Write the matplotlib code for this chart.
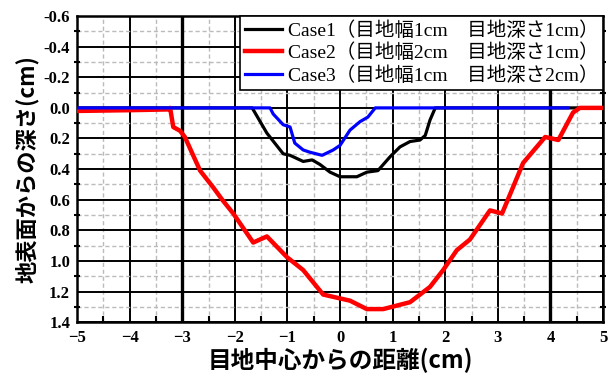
import matplotlib
matplotlib.use("Agg")
import matplotlib.pyplot as plt
from matplotlib.ticker import MultipleLocator

# 目地中心からの距離 (cm) と 地表面からの深さ (cm)
case1_x = [-5.0, -1.67, -1.39, -1.08, -0.95, -0.70, -0.53, -0.38, -0.19, 0.0, 0.32,
           0.51, 0.72, 0.95, 1.14, 1.33, 1.52, 1.62, 1.71, 1.81, 5.0]
case1_y = [0.0, 0.0, 0.165, 0.30, 0.31, 0.35, 0.34, 0.37, 0.42, 0.45, 0.45,
           0.42, 0.41, 0.32, 0.255, 0.22, 0.21, 0.18, 0.08, 0.0, 0.0]

case2_x = [-5.0, -4.0, -3.25, -3.23, -3.17, -3.04, -2.95, -2.66, -2.41, -2.24, -2.03,
           -1.65, -1.39, -1.01, -0.70, -0.32, 0.19, 0.51, 0.82, 1.33, 1.71, 1.96,
           2.22, 2.47, 2.85, 3.08, 3.19, 3.48, 3.90, 4.15, 4.43, 4.56, 5.0]
case2_y = [0.02, 0.015, 0.01, 0.0, 0.125, 0.15, 0.19, 0.41, 0.52, 0.60, 0.69,
           0.88, 0.84, 0.975, 1.06, 1.22, 1.26, 1.315, 1.315, 1.27, 1.17, 1.06,
           0.93, 0.86, 0.67, 0.69, 0.60, 0.36, 0.19, 0.21, 0.03, 0.0, 0.0]

case3_x = [-5.0, -1.33, -1.27, -1.08, -0.95, -0.86, -0.70, -0.57, -0.34, -0.13, 0.0,
           0.19, 0.38, 0.53, 0.67, 4.33]
case3_y = [0.0, 0.0, 0.04, 0.11, 0.125, 0.23, 0.275, 0.29, 0.31, 0.275, 0.245,
           0.145, 0.09, 0.06, 0.0, 0.0]

labels = ["Case1（目地幅1cm　目地深さ1cm）",
          "Case2（目地幅2cm　目地深さ1cm）",
          "Case3（目地幅1cm　目地深さ2cm）"]

serif = ["Liberation Serif", "Noto Sans CJK JP"]
gothic = ["Noto Sans CJK JP", "DejaVu Sans"]

fig = plt.figure(figsize=(6.11, 3.83), dpi=100)
ax = fig.add_axes([0.126, 0.159, 0.861, 0.799])

ax.plot(case1_x, case1_y, color="black", lw=2.3, label=labels[0], zorder=3)
ax.plot(case2_x, case2_y, color="red", lw=3.2, label=labels[1], zorder=4)
ax.plot(case3_x, case3_y, color="blue", lw=2.3, label=labels[2], zorder=5)

ax.set_xlim(-5, 5)
ax.set_ylim(1.4, -0.6)
ax.xaxis.set_major_locator(MultipleLocator(1))
ax.xaxis.set_minor_locator(MultipleLocator(0.5))
ax.yaxis.set_major_locator(MultipleLocator(0.2))
ax.yaxis.set_minor_locator(MultipleLocator(0.1))

ax.grid(which="major", color="black", lw=1.4, ls="-", zorder=1)
ax.grid(which="minor", color="#bbbbbb", lw=1.0, ls=(0, (3, 2)), zorder=1)
ax.axvline(-3, color="black", lw=2.4, zorder=1)
ax.axvline(4, color="black", lw=2.4, zorder=1)
ax.set_axisbelow(True)

for s in ax.spines.values():
    s.set_linewidth(1.8)

ax.tick_params(which="both", direction="in", width=1.5, right=True)
ax.tick_params(which="major", length=0)
ax.tick_params(which="minor", length=4)
ax.tick_params(axis="y", which="minor", right=True, direction="inout")

ax.set_yticks([-0.6, -0.4, -0.2, 0.0, 0.2, 0.4, 0.6, 0.8, 1.0, 1.2, 1.4])
ax.set_yticklabels(["-0.6", "-0.4", "-0.2", "0.0", "0.2", "0.4", "0.6",
                    "0.8", "1.0", "1.2", "1.4"])
for t in ax.get_xticklabels() + ax.get_yticklabels():
    t.set_fontfamily("Liberation Serif")
    t.set_fontweight("bold")
    t.set_fontsize(12)
ax.tick_params(axis="x", pad=6)
ax.tick_params(axis="y", pad=5)

ax.set_xlabel("目地中心からの距離(cm)", family=gothic, fontweight="bold",
              fontsize=17, labelpad=1)
ax.set_ylabel("地表面からの深さ(cm)", family=gothic, fontweight="bold",
              fontsize=16, labelpad=3)

leg = ax.legend(loc="upper right", bbox_to_anchor=(1.0, 1.0), fancybox=False,
                framealpha=1, edgecolor="black", borderaxespad=0,
                handlelength=1.9, handletextpad=0.3, labelspacing=0.2,
                borderpad=0.25, prop={"family": serif, "size": 14})
leg.get_frame().set_linewidth(1.2)
leg.set_zorder(10)

fig.savefig("out.png", dpi=100)
